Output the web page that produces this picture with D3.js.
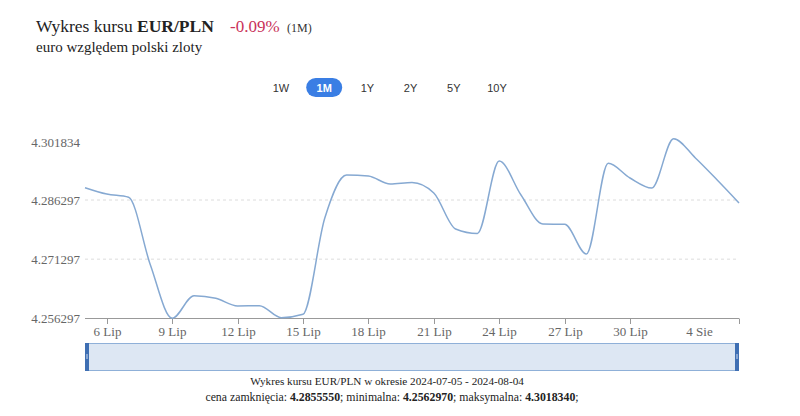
<!DOCTYPE html>
<html><head><meta charset="utf-8">
<script src="https://cdn.jsdelivr.net/npm/d3@7/dist/d3.min.js"></script>
<style>
body{margin:0;background:#fff;}
svg{display:block;}
</style></head>
<body>
<svg id="c" width="800" height="416"></svg>
<script>
const dates = ["2024-07-05","2024-07-06","2024-07-07","2024-07-08","2024-07-09","2024-07-10","2024-07-11","2024-07-12","2024-07-13","2024-07-14","2024-07-15","2024-07-16","2024-07-17","2024-07-18","2024-07-19","2024-07-20","2024-07-21","2024-07-22","2024-07-23","2024-07-24","2024-07-25","2024-07-26","2024-07-27","2024-07-28","2024-07-29","2024-07-30","2024-07-31","2024-08-01","2024-08-02","2024-08-03","2024-08-04"];
const rates = [4.28942,4.28780,4.28698,4.26981,4.256297,4.26203,4.26137,4.25942,4.25949,4.25645,4.25731,4.28173,4.29264,4.29238,4.29036,4.29073,4.28807,4.27894,4.27780,4.29619,4.28756,4.28021,4.28013,4.27260,4.29560,4.29188,4.28934,4.301834,4.29695,4.29137,4.285555];
const yTicks = [4.256297,4.271297,4.286297,4.301834];
const xTickDates = ["2024-07-06","2024-07-09","2024-07-12","2024-07-15","2024-07-18","2024-07-21","2024-07-24","2024-07-27","2024-07-30","2024-08-04"];
const xTickLabels = ["6 Lip","9 Lip","12 Lip","15 Lip","18 Lip","21 Lip","24 Lip","27 Lip","30 Lip","4 Sie"];
const buttons = ["1W","1M","1Y","2Y","5Y","10Y"];
const activeButton = "1M";

const parse = d3.utcParse("%Y-%m-%d");
const data = dates.map((d,i)=>({date:parse(d), v:rates[i]}));
const svg = d3.select("#c");
const serif = "'Liberation Serif','DejaVu Serif',serif";
const sans = "'Liberation Sans',Arial,sans-serif";

const x = d3.scaleUtc().domain([data[0].date, data[data.length-1].date]).range([85,739]);
const y = d3.scaleLinear().domain([4.256297,4.286297]).range([318.3,200]);

// Title
const t = svg.append("text").attr("x",36).attr("y",32).attr("font-family",serif).attr("font-size",17.5).attr("fill","#222");
t.append("tspan").text("Wykres kursu ");
t.append("tspan").attr("font-weight","bold").text("EUR/PLN");
svg.append("text").attr("x",230).attr("y",32).attr("font-family",serif).attr("font-size",17).attr("fill","#c9325a").text("-0.09%");
svg.append("text").attr("x",287).attr("y",32).attr("font-family",serif).attr("font-size",12).attr("fill","#333").text("(1M)");
svg.append("text").attr("x",36).attr("y",52).attr("font-family",serif).attr("font-size",15).attr("fill","#222").text("euro względem polski zloty");

// Buttons
const bx = d3.scalePoint().domain(buttons).range([281,497]);
const bg = svg.append("g");
buttons.forEach(b=>{
  const cx = bx(b);
  if(b===activeButton){
    bg.append("rect").attr("x",cx-18).attr("y",78).attr("width",36).attr("height",19).attr("rx",9.5).attr("fill","#3a7ee4");
  }
  bg.append("text").attr("x",cx).attr("y",91.5).attr("text-anchor","middle").attr("font-family",sans).attr("font-size",11)
    .attr("font-weight", b===activeButton?"bold":"normal").attr("fill", b===activeButton?"#fff":"#333").text(b);
});

// Gridlines
const grid = svg.append("g");
yTicks.slice(1,3).forEach(v=>{
  grid.append("line").attr("x1",85).attr("x2",739).attr("y1",y(v)).attr("y2",y(v))
    .attr("stroke","#dcdcdc").attr("stroke-dasharray","3,3").attr("stroke-width",1);
});
// Y labels
yTicks.forEach((v,i)=>{
  svg.append("text").attr("x",80).attr("y",y(v)+(i===3?4:0)).attr("dy","0.35em").attr("text-anchor","end")
    .attr("font-family",serif).attr("font-size",13).attr("fill","#666").text(d3.format(".6f")(v));
});

// X axis
svg.append("line").attr("x1",85).attr("x2",739).attr("y1",318.5).attr("y2",318.5).attr("stroke","#999").attr("stroke-width",1);
xTickDates.forEach((d,i)=>{
  const px = Math.round(x(parse(d)))+0.5;
  svg.append("line").attr("x1",px).attr("x2",px).attr("y1",318.5).attr("y2",324).attr("stroke","#999");
  const lx = i===xTickDates.length-1 ? px-40 : px;
  svg.append("text").attr("x",lx).attr("y",336).attr("text-anchor","middle").attr("font-family",serif)
    .attr("font-size",13).attr("fill","#666").text(xTickLabels[i]);
});

// Line
const line = d3.line().x(d=>x(d.date)).y(d=>y(d.v)).curve(d3.curveMonotoneX);
svg.append("path").datum(data).attr("d",line).attr("fill","none").attr("stroke","#86a9d2").attr("stroke-width",1.5);

// Navigator
svg.append("rect").attr("x",85.5).attr("y",343.5).attr("width",653).attr("height",27).attr("fill","#dde7f3").attr("stroke","#8fb0d8").attr("stroke-width",1);
[85,735].forEach(hx=>{
  svg.append("rect").attr("x",hx).attr("y",343).attr("width",4).attr("height",28).attr("fill","#3f6fb3");
  svg.append("line").attr("x1",hx+2).attr("x2",hx+2).attr("y1",354).attr("y2",359).attr("stroke","#cfdcef").attr("stroke-width",1);
});

// Footer
svg.append("text").attr("x",387).attr("y",385).attr("text-anchor","middle").attr("font-family",serif).attr("font-size",11.2).attr("fill","#222")
  .text("Wykres kursu EUR/PLN w okresie 2024-07-05 - 2024-08-04");
const f = svg.append("text").attr("x",392).attr("y",401).attr("text-anchor","middle").attr("font-family",serif).attr("font-size",11.8).attr("fill","#222");
f.append("tspan").text("cena zamknięcia: ");
f.append("tspan").attr("font-weight","bold").text("4.2855550");
f.append("tspan").text("; minimalna: ");
f.append("tspan").attr("font-weight","bold").text("4.2562970");
f.append("tspan").text("; maksymalna: ");
f.append("tspan").attr("font-weight","bold").text("4.3018340");
f.append("tspan").text(";");
</script>
</body></html>
